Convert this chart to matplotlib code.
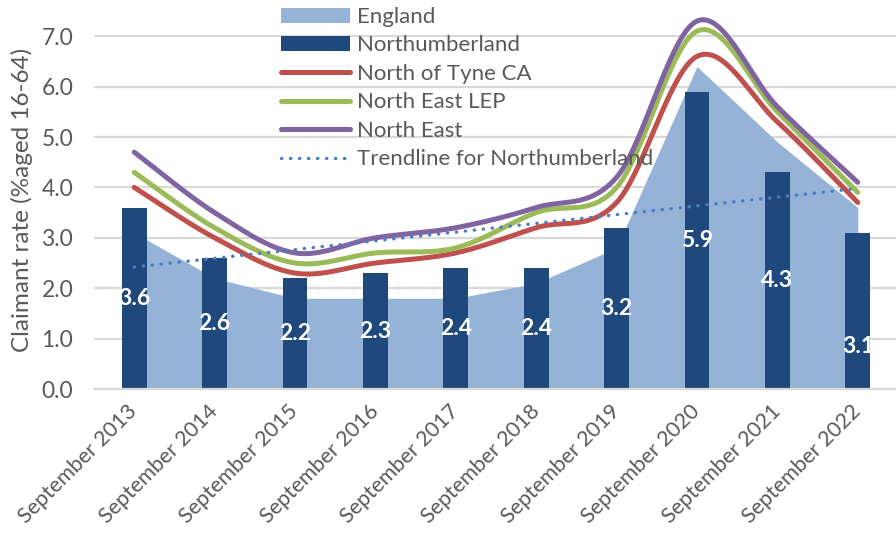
import numpy as np
import matplotlib.pyplot as plt
from matplotlib.patches import Patch
from matplotlib.lines import Line2D

plt.rcParams['font.family'] = ['Lato', 'DejaVu Sans']

# Stopa bezrobocia (claimant rate, % w wieku 16-64)
years = ['September 2013', 'September 2014', 'September 2015', 'September 2016',
         'September 2017', 'September 2018', 'September 2019', 'September 2020',
         'September 2021', 'September 2022']
england = [3.1, 2.2, 1.8, 1.8, 1.8, 2.1, 2.8, 6.4, 4.9, 3.6]
northumberland = [3.6, 2.6, 2.2, 2.3, 2.4, 2.4, 3.2, 5.9, 4.3, 3.1]
north_of_tyne = [4.0, 3.0, 2.3, 2.5, 2.7, 3.2, 3.7, 6.6, 5.3, 3.7]
north_east_lep = [4.3, 3.2, 2.5, 2.7, 2.8, 3.5, 4.0, 7.1, 5.5, 3.9]
north_east = [4.7, 3.5, 2.7, 3.0, 3.2, 3.6, 4.2, 7.3, 5.6, 4.1]

txt_color = '#595959'
grid_color = '#D9D9D9'


def smooth(x, y, n=40):
    # wygładzenie krzywą Beziera (jak "smoothed line" w Excelu)
    pts = np.column_stack([x, y]).astype(float)
    ext = np.vstack([pts[0], pts, pts[-1]])
    t = np.linspace(0, 1, n)[:, None]
    out = []
    for i in range(len(pts) - 1):
        p0, p1, p2, p3 = ext[i], ext[i + 1], ext[i + 2], ext[i + 3]
        c1 = p1 + (p2 - p0) / 6
        c2 = p2 - (p3 - p1) / 6
        seg = (1 - t)**3 * p1 + 3 * (1 - t)**2 * t * c1 + 3 * (1 - t) * t**2 * c2 + t**3 * p2
        out.append(seg if i == 0 else seg[1:])
    out = np.vstack(out)
    return out[:, 0], out[:, 1]


x = np.arange(len(years))

fig = plt.figure(figsize=(8.96, 5.36), dpi=100)
ax = fig.add_axes([94 / 896, 1 - 389 / 536, 804 / 896, 378 / 536])

ax.fill_between(x, england, color='#95B3D7', linewidth=0, zorder=1)
ax.bar(x, northumberland, width=0.31, color='#1F497D', zorder=2)

for vals, col in [(north_of_tyne, '#C0504D'), (north_east_lep, '#9BBB59'), (north_east, '#8064A2')]:
    sx, sy = smooth(x, vals)
    ax.plot(sx, sy, color=col, linewidth=3.6, solid_capstyle='round', zorder=3)

# linia trendu dla Northumberland
a, b = np.polyfit(x, northumberland, 1)
ax.plot(x, a * x + b, color='#4A7EC2', linewidth=2.4, linestyle=(0, (0.1, 2.6)),
        dash_capstyle='round', zorder=4)

# etykiety wartości na słupkach
label_y = [v / 2 for v in northumberland]
label_y[-1] = 0.85
for xi, v, ly in zip(x, northumberland, label_y):
    ax.text(xi, ly, f'{v:.1f}', color='white', fontsize=16.5, fontweight='bold',
            ha='center', va='center', zorder=5)

ax.set_xlim(-0.5, 9.5)
ax.set_ylim(0, 7.5)
ax.set_yticks(np.arange(0, 8, 1.0))
ax.set_yticklabels([f'{v:.1f}' for v in np.arange(0, 8, 1.0)])
ax.set_xticks(x)
ax.set_xticklabels(years, rotation=45, ha='right', va='center', rotation_mode='anchor')
ax.tick_params(axis='both', length=0, labelcolor=txt_color)
ax.tick_params(axis='y', pad=15, labelsize=16.5)
ax.tick_params(axis='x', pad=14, labelsize=15.5)

ax.grid(axis='y', color=grid_color, linewidth=1.6)
ax.set_axisbelow(True)
for side in ['top', 'right', 'left']:
    ax.spines[side].set_visible(False)
ax.spines['bottom'].set_color(grid_color)
ax.spines['bottom'].set_linewidth(1.6)

ax.set_ylabel('Claimant rate (%aged 16-64)', fontsize=17.5, color=txt_color, labelpad=6)

handles = [
    Patch(facecolor='#95B3D7'),
    Patch(facecolor='#1F497D'),
    Line2D([], [], color='#C0504D', linewidth=3.6, solid_capstyle='round'),
    Line2D([], [], color='#9BBB59', linewidth=3.6, solid_capstyle='round'),
    Line2D([], [], color='#8064A2', linewidth=3.6, solid_capstyle='round'),
    Line2D([], [], color='#4A7EC2', linewidth=2.4, linestyle=(0, (0.1, 2.6)), dash_capstyle='round'),
]
labels = ['England', 'Northumberland', 'North of Tyne CA', 'North East LEP', 'North East',
          'Trendline for Northumberland']
leg = fig.legend(handles, labels, loc='upper left', bbox_to_anchor=(281 / 896, 1 - 7 / 536),
                 frameon=False, fontsize=16, handlelength=3.1, handleheight=0.65,
                 handletextpad=0.3, labelspacing=0.38, borderpad=0, borderaxespad=0)
for t in leg.get_texts():
    t.set_color(txt_color)

fig.savefig('out.png', dpi=100)
